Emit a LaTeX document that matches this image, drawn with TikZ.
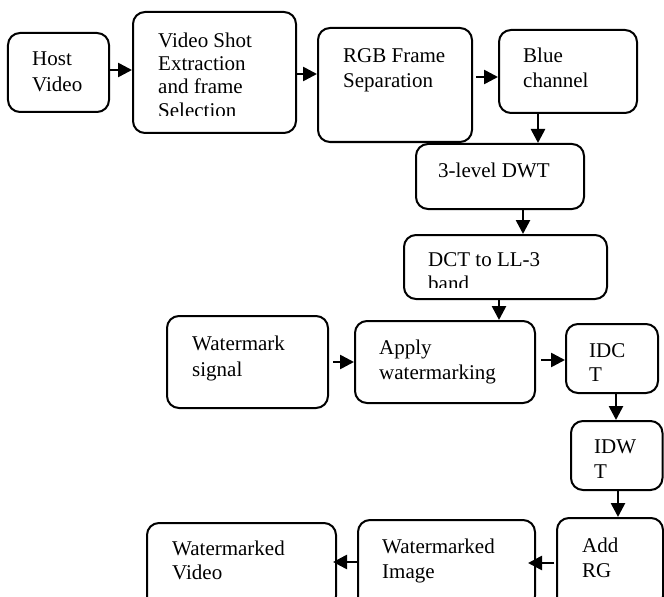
\documentclass[tikz,border=0pt]{standalone}
\usepackage{fontspec}
\setmainfont{Liberation Serif}
\usetikzlibrary{arrows.meta}
\begin{document}
\begin{tikzpicture}[x=1bp,y=-1bp,
  box/.style={draw, line width=2bp, rounded corners=12bp, inner sep=0pt},
  lbl/.style={anchor=base west, inner sep=0pt, font=\fontsize{21bp}{24bp}\selectfont},
  arr/.style={line width=2.6bp, -{Triangle[length=14bp,width=14bp]}}]
\useasboundingbox (0,0) rectangle (664,597);
\clip (0,0) rectangle (664,597);
% boxes
\node[box, minimum width=101bp, minimum height=79bp] (host) at (58.5,72.5) {};
\node[box, minimum width=163bp, minimum height=121bp] (vshot) at (214.5,72.5) {};
\node[box, minimum width=154bp, minimum height=114bp] (rgb) at (395,85) {};
\node[box, minimum width=138bp, minimum height=83bp] (blue) at (568,71.5) {};
\node[box, minimum width=168bp, minimum height=65bp] (dwt) at (500,176.5) {};
\node[box, minimum width=203bp, minimum height=64bp] (dct) at (505.5,267) {};
\node[box, minimum width=161bp, minimum height=92bp] (wsig) at (247.5,362) {};
\node[box, minimum width=180bp, minimum height=82bp] (apply) at (445,362) {};
\node[box, minimum width=92bp, minimum height=69bp] (idct) at (612,358.5) {};
\node[box, minimum width=91.5bp, minimum height=69bp] (idwt) at (616.75,455.5) {};
\node[box, minimum width=106bp, minimum height=90bp] (addrg) at (610,563) {};
\node[box, minimum width=177bp, minimum height=88bp] (wimg) at (446.5,564) {};
\node[box, minimum width=189bp, minimum height=85bp] (wvid) at (241.5,565.5) {};
% labels
\node[lbl] (t1) at (32,66) {Host};
\node[lbl] (t2) at (32,92) {Video};
\begin{scope}
\clip (133,12) rectangle (296,116);
\node[lbl] (t3) at (158,48) {Video Shot};
\node[lbl] (t4) at (158,71) {Extraction};
\node[lbl] (t5) at (158,94) {and frame};
\node[lbl] (t6) at (158,117.5) {Selection};
\end{scope}
\node[lbl] (t7) at (343,63) {RGB Frame};
\node[lbl] (t8) at (343,88) {Separation};
\node[lbl] (t9) at (523,63) {Blue};
\node[lbl] (t10) at (523,88) {channel};
\node[lbl] (t11) at (438,178) {3-level DWT};
\begin{scope}
\clip (404,235) rectangle (607,287);
\node[lbl] (t12) at (428,266) {DCT to LL-3};
\node[lbl] (t13) at (428,290) {band};
\end{scope}
\node[lbl] (t14) at (192,350) {Watermark};
\node[lbl] (t15) at (192,376) {signal};
\node[lbl] (t16) at (379,354) {Apply};
\node[lbl] (t17) at (379,379) {watermarking};
\node[lbl] (t18) at (589,357) {IDC};
\node[lbl] (t19) at (589,381) {T};
\node[lbl] (t20) at (594,453) {IDW};
\node[lbl] (t21) at (594,478) {T};
\node[lbl] (t22) at (582,552) {Add};
\node[lbl] (t23) at (582,577) {RG};
\node[lbl] (t24) at (382,553) {Watermarked};
\node[lbl] (t25) at (382,578) {Image};
\node[lbl] (t26) at (172,555) {Watermarked};
\node[lbl] (t27) at (172,579) {Video};
% arrows
\coordinate (a1) at ([yshift=2.5bp]host.east);
\draw[arr] (a1) -- (a1 -| vshot.west);
\coordinate (a2) at ([yshift=-1.5bp]vshot.east);
\draw[arr] (a2) -- (a2 -| rgb.west);
\coordinate (a3) at ([xshift=3bp,yshift=8bp]rgb.east);
\draw[arr] (a3) -- (a3 -| blue.west);
\coordinate (a4) at ([xshift=-30bp]blue.south);
\draw[arr] (a4) -- (a4 |- dwt.north);
\coordinate (a5) at ([xshift=23bp]dwt.south);
\draw[arr] (a5) -- (a5 |- dct.north);
\coordinate (a6) at ([xshift=-6.5bp]dct.south);
\draw[arr] (a6) -- (a6 |- apply.north);
\coordinate (a7) at ([xshift=4bp]wsig.east);
\draw[arr] (a7) -- (a7 -| apply.west);
\coordinate (a8) at ([xshift=5bp,yshift=2bp]apply.east);
\draw[arr] (a8) -- (a8 -| idct.west);
\coordinate (a9) at ([xshift=4bp]idct.south);
\draw[arr] (a9) -- (a9 |- idwt.north);
\coordinate (a10) at ([xshift=1.25bp]idwt.south);
\draw[arr] (a10) -- (a10 |- addrg.north);
\coordinate (a11) at ([xshift=-2bp]addrg.west);
\coordinate (e11) at ([xshift=-8bp]wimg.east);
\draw[arr] (a11) -- (a11 -| e11);
\coordinate (a12) at ([yshift=2bp]wimg.west);
\coordinate (e12) at ([xshift=-4bp]wvid.east);
\draw[arr] (a12) -- (a12 -| e12);
\end{tikzpicture}
\end{document}
